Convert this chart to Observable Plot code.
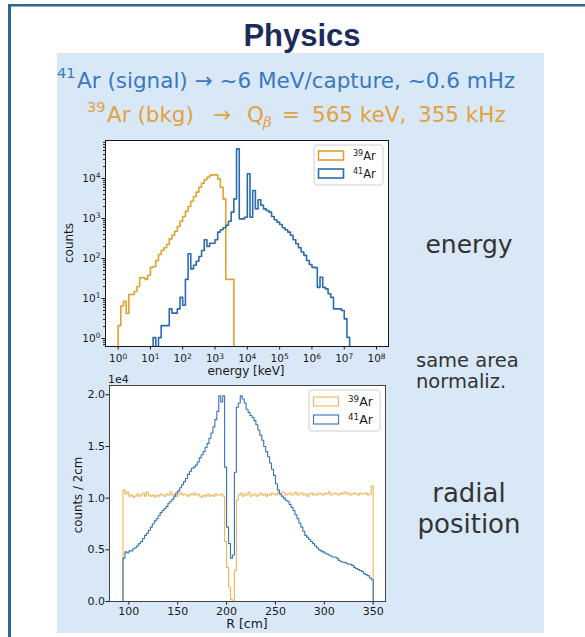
<!DOCTYPE html>
<html>
<head>
<meta charset="utf-8">
<script src="https://cdn.jsdelivr.net/npm/d3@7"></script>
<script src="https://cdn.jsdelivr.net/npm/@observablehq/plot@0.6"></script>
<style>
html,body{margin:0;padding:0;background:#fff;}
#slide{position:relative;width:585px;height:637px;overflow:hidden;background:#fff;}
#slide > svg{position:absolute;}
</style>
</head>
<body>
<div id="slide"></div>
<script>
// ================= DATA =================
// Energy spectrum: log-spaced bins, 12 per decade starting at 10^0 keV
const energyBinsPerDecade = 12;
const ar39EnergyFirstBin = 0;
const ar39EnergyCounts = [2.1, 6.5, 8.5, 4.2, 12.6, 12.6, 15, 20, 33, 33, 30, 38, 60, 63, 89, 126, 158, 186, 224, 309,
  380, 479, 631, 851, 1122, 1514, 1995, 2692, 3548, 4571, 6026, 7586, 9333, 10715, 12023, 12303, 12303, 9772, 6026, 3090,
  30, 30, 30];
const ar41EnergyFirstBin = 13;
const ar41EnergyCounts = [1.05, 0, 1.05, 2.1, 2.1, 2.1, 5.5, 4.3, 4.3, 5.5, 10.7, 6.8, 30, 132, 55, 68, 85, 112, 158, 295,
  200, 240, 240, 295, 457, 525, 589, 676, 851, 1445, 3090, 55000, 977, 977, 1072, 13183, 1072, 5012, 1738, 2951,
  2138, 1738, 1585, 1445, 1122, 933, 813, 708, 589, 525, 457, 380, 295, 234, 186, 145, 120, 89, 71, 60,
  59, 19, 34, 19, 17.4, 13.2, 10.7, 5.5, 5.5, 5.5, 5.0, 3.1, 1.07];
const energyTicks = [1e0, 1e1, 1e2, 1e3, 1e4, 1e5, 1e6, 1e7, 1e8];
const countTicks = [1e0, 1e1, 1e2, 1e3, 1e4];
const countMinorMantissas = [2, 3, 4, 5, 6, 7, 8, 9];

// Radial position: 2 cm bins starting at R = 94 cm (values in units of 1e4 counts)
const radialBinStart = 94;
const radialBinWidth = 2;
const ar39Radial = [
  1.08,1.04,1.06,1.02,1.03,1.01,1.02,1.04,1.02,1.03,
  1.05,1.02,1.06,1.03,1.02,1.03,1.01,1.03,1.02,1.04,
  1.03,1.02,1.04,1.03,1.06,1.03,1.04,1.02,1.04,1.05,
  1.03,1.04,1.03,1.02,1.04,1.03,1.05,1.03,1.04,1.02,
  1.01,1.03,1.02,1.04,1.02,1.03,1.02,1.04,1.03,1.03,
  1.04,1.02,0.58,0.33,0.14,0.02,0.00,0.30,0.98,1.03,
  1.05,1.02,1.04,1.03,1.06,1.02,1.03,1.04,1.02,1.03,
  1.05,1.03,1.04,1.02,1.04,1.03,1.05,1.04,1.03,1.06,
  1.04,1.06,1.05,1.03,1.04,1.05,1.03,1.04,1.06,1.03,
  1.04,1.05,1.03,1.04,1.02,1.04,1.05,1.03,1.04,1.03,
  1.05,1.04,1.03,1.05,1.04,1.06,1.03,1.04,1.05,1.04,
  1.03,1.05,1.04,1.06,1.04,1.05,1.03,1.04,1.05,1.04,
  1.03,1.05,1.04,1.04,1.05,1.03,1.04,1.12];
const ar41Radial = [
  0.42,0.48,0.47,0.49,0.49,0.51,0.52,0.54,0.56,0.58,
  0.61,0.64,0.66,0.69,0.72,0.75,0.78,0.80,0.83,0.86,
  0.88,0.90,0.92,0.95,0.97,0.99,1.02,1.05,1.07,1.10,
  1.13,1.16,1.19,1.23,1.26,1.29,1.30,1.32,1.35,1.39,
  1.42,1.45,1.49,1.53,1.58,1.63,1.69,1.76,1.84,1.99,
  1.93,1.99,1.30,0.72,0.56,0.42,0.45,1.25,1.88,1.92,
  1.99,1.96,1.92,1.86,1.83,1.80,1.78,1.75,1.71,1.66,
  1.61,1.56,1.50,1.45,1.40,1.34,1.28,1.22,1.14,1.08,
  1.04,1.02,1.00,0.98,0.97,0.94,0.91,0.88,0.84,0.80,
  0.76,0.72,0.68,0.64,0.62,0.60,0.58,0.56,0.54,0.52,
  0.50,0.49,0.48,0.47,0.46,0.45,0.44,0.43,0.43,0.42,
  0.40,0.39,0.38,0.38,0.37,0.36,0.36,0.35,0.33,0.32,
  0.31,0.30,0.29,0.27,0.26,0.25,0.23,0.21];
const radialTicks = [100, 150, 200, 250, 300, 350];
const radialCountTicks = [0, 0.5, 1.0, 1.5, 2.0];

const seriesNames = ["39", "41"]; // superscript mass numbers for legend
// ========================================

const orangeE = "#e2a131", blueE = "#2b6cb0";
const orangeR = "#efb458", blueR = "#3673bb";

function stepPoints(edges, values, floor) {
  const v = values.map(d => (d > 0 ? d : floor));
  const pts = [{x: edges[0], y: floor}];
  v.forEach((d, i) => pts.push({x: edges[i], y: d}));
  pts.push({x: edges[v.length], y: v[v.length - 1]});
  pts.push({x: edges[v.length], y: floor});
  return pts;
}

const eEdges = (first, n) => d3.range(n + 1).map(i => Math.pow(10, (first + i) / energyBinsPerDecade));
const rEdges = n => d3.range(n + 1).map(i => radialBinStart + i * radialBinWidth);

const floorE = 0.1;
const e39 = stepPoints(eEdges(ar39EnergyFirstBin, ar39EnergyCounts.length), ar39EnergyCounts, floorE);
const e41 = stepPoints(eEdges(ar41EnergyFirstBin, ar41EnergyCounts.length), ar41EnergyCounts, floorE);
const r39 = stepPoints(rEdges(ar39Radial.length), ar39Radial, 0);
const r41 = stepPoints(rEdges(ar41Radial.length), ar41Radial, 0);

const minorTicks = [];
for (let k = -1; k <= 4; k++) for (const m of countMinorMantissas) {
  const v = m * Math.pow(10, k);
  if (v > Math.pow(10, -0.2) && v < Math.pow(10, 4.95)) minorTicks.push(v);
}

const slide = document.getElementById("slide");

// ---------- background slide ----------
const bg = `
<svg width="585" height="637" style="left:0;top:0" xmlns="http://www.w3.org/2000/svg">
  <rect x="57" y="53" width="487" height="580" fill="#d9e8f7"/>
  <rect x="8" y="4" width="577" height="2.5" fill="#2a6788"/>
  <rect x="8" y="4" width="3" height="633" fill="#2a6788"/>
  <text x="302" y="46" text-anchor="middle" font-family="Liberation Sans, Arial, sans-serif" font-weight="bold" font-size="31" fill="#1d2b59">Physics</text>
  <text y="88" font-family="DejaVu Sans" font-size="21.5" fill="#3b79be"><tspan x="57" font-size="14.5" dy="-10">41</tspan><tspan x="77" dy="10">Ar (signal) → ~6 MeV/capture, ~0.6 mHz</tspan></text>
  <text y="122" font-family="DejaVu Sans" font-size="21.5" fill="#e2a13e"><tspan x="87" font-size="14.5" dy="-10">39</tspan><tspan x="107" dy="10">Ar (bkg)</tspan><tspan x="213">→</tspan><tspan x="247">Q</tspan><tspan x="263" font-family="DejaVu Serif" font-style="italic" font-size="15" dy="5">β</tspan><tspan x="282" dy="-5">=</tspan><tspan x="312">565 keV,</tspan><tspan x="418">355 kHz</tspan></text>
  <g font-family="DejaVu Sans" fill="#333">
    <text x="469" y="253" text-anchor="middle" font-size="25">energy</text>
    <text x="416" y="367" font-size="19.5">same area</text>
    <text x="416" y="388" font-size="19.5">normaliz.</text>
    <text x="469" y="502" text-anchor="middle" font-size="26">radial</text>
    <text x="469" y="533" text-anchor="middle" font-size="26">position</text>
  </g>
  <g font-family="DejaVu Sans" fill="#1a1a1a">
    <text x="246" y="375" text-anchor="middle" font-size="12">energy [keV]</text>
    <text transform="translate(73,243) rotate(-90)" text-anchor="middle" font-size="12">counts</text>
    <text x="247" y="628" text-anchor="middle" font-size="12.5">R [cm]</text>
    <text transform="translate(82,495) rotate(-90)" text-anchor="middle" font-size="11.8">counts / 2cm</text>
    <text x="108" y="383" font-size="11">1e4</text>
  </g>
</svg>`;
slide.insertAdjacentHTML("beforeend", bg);

// power-of-ten labels: "10" with a raised exponent
const pow10 = d => "10^" + Math.round(Math.log10(d));
function raiseExponents(svg) {
  d3.select(svg).selectAll("text").each(function () {
    const m = /^10\^(-?\d+)$/.exec(this.textContent);
    if (!m) return;
    this.textContent = "10";
    d3.select(this).append("tspan").attr("dy", "-0.45em").attr("font-size", "0.72em").text(m[1]);
  });
}

// ---------- energy plot ----------
const energyPlot = Plot.plot({
  width: 348, height: 256,
  marginLeft: 50, marginRight: 15, marginTop: 10, marginBottom: 40,
  style: {background: "transparent", fontFamily: "DejaVu Sans", fontSize: "10.5px", color: "#1a1a1a", overflow: "visible"},
  x: {type: "log", domain: [Math.pow(10, -0.39), Math.pow(10, 8.37)]},
  y: {type: "log", domain: [Math.pow(10, -0.2), Math.pow(10, 4.95)]},
  marks: [
    Plot.frame({fill: "white", stroke: null}),
    Plot.axisX(energyTicks, {tickSize: 3.5, tickPadding: 5, label: null, tickFormat: pow10}),
    Plot.axisY(countTicks, {tickSize: 3.5, tickPadding: 1.5, label: null, tickFormat: pow10}),
    Plot.axisY(minorTicks, {tickSize: 2, tickFormat: () => "", label: null}),
    Plot.line(e39, {x: "x", y: "y", curve: "step-after", stroke: orangeE, strokeWidth: 1.6, clip: true}),
    Plot.line(e41, {x: "x", y: "y", curve: "step-after", stroke: blueE, strokeWidth: 1.6, clip: true}),
    Plot.frame({stroke: "#1a1a1a", strokeWidth: 1})
  ]
});
raiseExponents(energyPlot);
energyPlot.style.left = "55px"; energyPlot.style.top = "130px";
slide.appendChild(energyPlot);

// ---------- radial plot ----------
const radialPlot = Plot.plot({
  width: 345, height: 267,
  marginLeft: 54, marginRight: 15, marginTop: 15, marginBottom: 36,
  style: {background: "transparent", fontFamily: "DejaVu Sans", fontSize: "11px", color: "#1a1a1a", overflow: "visible"},
  x: {domain: [80.2, 362.6]},
  y: {domain: [0, 2.09]},
  marks: [
    Plot.frame({fill: "white", stroke: null}),
    Plot.axisX(radialTicks, {tickSize: 3.5, tickPadding: 2, label: null}),
    Plot.axisY(radialCountTicks, {tickSize: 3.5, tickPadding: 1, label: null, tickFormat: d => d.toFixed(1)}),
    Plot.line(r39, {x: "x", y: "y", curve: "step-after", stroke: orangeR, strokeWidth: 1.1, clip: true}),
    Plot.line(r41, {x: "x", y: "y", curve: "step-after", stroke: blueR, strokeWidth: 1.1, clip: true}),
    Plot.frame({stroke: "#444", strokeWidth: 1})
  ]
});
radialPlot.style.left = "55px"; radialPlot.style.top = "370px";
slide.appendChild(radialPlot);

// ---------- legends ----------
function legend(x, y, w, h, colors, sw, fs, rowY) {
  return `<rect x="${x}" y="${y}" width="${w}" height="${h}" rx="3" fill="white" fill-opacity="0.85" stroke="#d0d0d0"/>` +
    colors.map((c, i) => `<rect x="${x + 4.5}" y="${rowY[i] - 9}" width="25" height="9" fill="white" stroke="${c}" stroke-width="${sw}"/>
      <text x="${x + 39}" y="${rowY[i]}" font-family="DejaVu Sans" font-size="${fs}" fill="#1a1a1a"><tspan font-size="${fs * 0.7}" dy="-4.5">${seriesNames[i]}</tspan><tspan dy="4.5">Ar</tspan></text>`).join("");
}
const leg = `<svg width="585" height="637" style="left:0;top:0;pointer-events:none" xmlns="http://www.w3.org/2000/svg">
  ${legend(314, 145, 69, 40, [orangeE, blueE], 1.6, 11.5, [160, 178])}
  ${legend(309, 390, 71, 41, [orangeR, blueR], 1.1, 12.5, [406, 424])}
</svg>`;
slide.insertAdjacentHTML("beforeend", leg);
</script>
</body>
</html>
